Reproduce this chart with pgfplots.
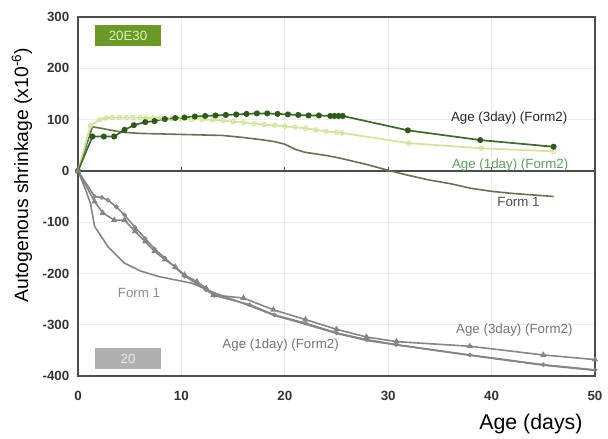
\documentclass[border=0pt]{standalone}
\usepackage{fontspec}
\setmainfont{Liberation Sans}
\usepackage{pgfplots}
\pgfplotsset{compat=1.18}

\definecolor{dkgreen}{HTML}{3F6B2A}
\definecolor{dkgreenmk}{HTML}{2E5A1A}
\definecolor{ltgreen}{HTML}{D2E39A}
\definecolor{olive}{HTML}{65734C}
\definecolor{grayline}{HTML}{858585}
\definecolor{boxgreen}{HTML}{6A9A26}
\definecolor{boxgray}{HTML}{B0B0B0}
\definecolor{txtgreen}{HTML}{5AA05A}

\begin{document}
\begin{tikzpicture}
\begin{axis}[
    name=ax,
    scale only axis,
    width=387.75pt, height=269.25pt,
    xmin=0, xmax=50, ymin=-400, ymax=300,
    xtick={0,10,...,50}, ytick={-400,-300,...,300},
    grid=major, major grid style={color=black!7, line width=0.6pt},
    axis line style={color=black!70, line width=0.9pt},
    major tick length=0pt,
    /pgf/number format/assume math mode=true,
    tick label style={font=\fontsize{10}{12}\selectfont\bfseries, text=black!80},
    xticklabel style={yshift=-8pt},
    yticklabel style={xshift=-3pt},
    extra y ticks={0}, extra y tick labels={},
    extra y tick style={grid=major, major grid style={color=black!70, line width=1pt}},
    xlabel={Age (days)},
    xlabel style={at={(axis description cs:0.876,0)}, anchor=center, yshift=-36pt,
                  font=\fontsize{16}{18}\selectfont},
    ylabel={Autogenous shrinkage (x10\textsuperscript{-6})},
    ylabel style={at={([xshift=-42pt]axis description cs:0,0.56)}, anchor=center,
                  font=\fontsize{14.5}{16}\selectfont},
    clip=false,
]
% small ticks on the zero line
\addplot[ycomb, color=black!70, line width=0.8pt, no markers] coordinates {(10,8) (20,8) (30,8) (40,8)};

% ---- 20E30 ----
% Form 1
\addplot[olive, line width=1.2pt, no markers] coordinates {
(0,0) (1.4,86) (2.5,82) (3.5,78) (4.5,75) (6,73) (8,72) (10,71) (12,70) (14,69)
(16,65) (18,60) (19,57) (20,52) (21,42) (22,36) (24,30) (25.3,25) (28,12) (30,1)
(32,-9) (34,-18) (36,-25) (38,-34) (40,-40) (42,-44) (44,-47) (46,-50)};
% Age (1day) (Form2)
\addplot[ltgreen, line width=1.3pt, mark=o, mark size=1.6pt, mark options={fill=white, line width=0.8pt}] coordinates {
(0,0) (1.2,88) (2.1,100) (2.7,103) (3.3,104) (4.0,104) (4.7,104) (5.3,104) (6.0,104)
(6.6,103) (7.3,103) (8.0,103) (9,102) (10,101) (11,100) (12,100) (13,99) (14,98)
(15,96) (16,94) (17,92) (18,90) (19,89) (20,87) (21,85) (22,83) (23,80) (24,77)
(25,75) (25.5,74) (32,54) (39,44) (46,38)};
% Age (3day) (Form2)
\addplot[dkgreen, line width=1.3pt, mark=*, mark size=1.6pt, mark options={fill=dkgreenmk, draw=dkgreenmk}] coordinates {
(0,0) (1.4,67) (2.5,67) (3.5,67) (4.5,80) (5.4,89) (6.5,95) (7.4,97) (8.4,101)
(9.4,103) (10.3,104) (11.3,106) (12.3,107) (13.3,108) (14.3,109) (15.3,110)
(16.3,111) (17.3,112) (18.3,112) (19.3,111) (20.3,110) (21.3,109) (22.3,108)
(23.3,108) (24.4,107) (24.8,107) (25.2,107) (25.6,107) (31.9,79) (38.9,60) (46,47)};

% ---- 20 ----
% Form 1
\addplot[grayline, line width=1.2pt, no markers] coordinates {
(0,0) (0.7,-35) (1.2,-63) (1.6,-108) (2.9,-148) (4.5,-180) (6,-195) (7.8,-206)
(9.5,-213) (11,-219) (13.2,-238) (16.6,-263) (19,-282) (22,-299) (25,-317)
(28,-331) (31,-340) (38,-360) (45,-379) (50,-389)};
% Age (1day) (Form2)
\addplot[grayline, line width=1.2pt, mark=o, mark size=1.4pt, mark options={fill=white, line width=0.7pt}] coordinates {
(0,0) (1.6,-50) (2.3,-52) (2.9,-57) (3.7,-70) (4.5,-86) (5.5,-110) (6.5,-132)
(7.4,-152) (8.4,-170) (9.4,-188) (10.3,-205) (11.5,-220) (12.4,-232) (13.2,-243)
(16.6,-261) (19,-281) (22,-297) (25,-316) (27.9,-329) (30.8,-339) (37.9,-359)
(45,-378) (50,-388)};
% Age (3day) (Form2)
\addplot[grayline, line width=1.2pt, mark=triangle*, mark size=1.6pt, mark options={fill=grayline}] coordinates {
(0,0) (1.6,-60) (2.4,-82) (3.5,-96) (4.5,-96) (5.5,-118) (6.5,-138) (7.4,-157)
(8.4,-173) (9.4,-187) (10.3,-203) (11.5,-216) (12.4,-229) (13.1,-242) (16,-248)
(18.9,-271) (22,-290) (25,-309) (27.9,-324) (30.8,-333) (37.9,-342) (45,-359)
(50,-368)};

% labels
\node[fill=boxgreen, text=ltgreen!60!white, minimum width=49.5pt, minimum height=15.75pt, font=\fontsize{10}{12}\selectfont]
  at (axis cs:4.84,264) {20E30};
\node[fill=boxgray, text=white!92!black, minimum width=49.5pt, minimum height=15.75pt, font=\fontsize{10}{12}\selectfont]
  at (axis cs:4.84,-366.5) {20};
\node[text=black!85, font=\fontsize{10}{12}\selectfont] at (axis cs:41.7,103) {Age (3day) (Form2)};
\node[text=txtgreen, font=\fontsize{10}{12}\selectfont] at (axis cs:41.8,12) {Age (1day) (Form2)};
\node[text=black!70, font=\fontsize{10}{12}\selectfont] at (axis cs:42.6,-60) {Form 1};
\node[text=black!45, font=\fontsize{10}{12}\selectfont] at (axis cs:5.9,-238) {Form 1};
\node[text=black!55, font=\fontsize{10}{12}\selectfont] at (axis cs:19.6,-339) {Age (1day) (Form2)};
\node[text=black!55, font=\fontsize{10}{12}\selectfont] at (axis cs:42.2,-310) {Age (3day) (Form2)};
\end{axis}
\path (ax.south west) ++(-58.5pt,-44.25pt);
\path (ax.north east) ++(9.75pt,12.75pt);
\end{tikzpicture}
\end{document}
